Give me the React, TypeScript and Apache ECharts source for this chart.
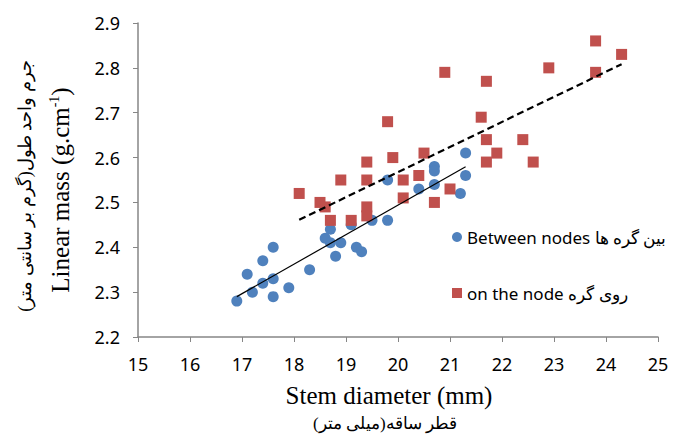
import React, { useEffect, useRef } from "react";
import * as echarts from "echarts";

const betweenX = [16.9, 17.1, 17.2, 17.4, 17.4, 17.6, 17.6, 17.6, 17.9, 18.3, 18.6, 18.7, 18.7, 18.9, 18.8, 19.2, 19.3, 19.1, 19.5, 19.8, 19.8, 20.4, 20.7, 20.7, 20.7, 21.2, 21.3, 21.3];
const betweenY = [2.28, 2.34, 2.30, 2.37, 2.32, 2.40, 2.33, 2.29, 2.31, 2.35, 2.42, 2.44, 2.41, 2.41, 2.38, 2.40, 2.39, 2.45, 2.46, 2.46, 2.55, 2.53, 2.58, 2.57, 2.54, 2.52, 2.61, 2.56];

const nodeX = [18.1, 18.5, 18.6, 18.7, 18.9, 19.1, 19.4, 19.4, 19.4, 19.4, 19.8, 19.9, 20.1, 20.1, 20.4, 20.5, 20.7, 20.9, 21.0, 21.6, 21.7, 21.7, 21.7, 21.9, 22.4, 22.6, 22.9, 23.8, 23.8, 24.3];
const nodeY = [2.52, 2.50, 2.49, 2.46, 2.55, 2.46, 2.59, 2.55, 2.49, 2.47, 2.68, 2.60, 2.55, 2.51, 2.56, 2.61, 2.50, 2.79, 2.53, 2.69, 2.77, 2.64, 2.59, 2.61, 2.64, 2.59, 2.80, 2.86, 2.79, 2.83];

const seriesNames = ["Between nodes بین گره ها", "on the node روی گره"];
const xTitle = "Stem diameter (mm)";
const xTitleFa = "قطر ساقه(میلی متر)";
const yTitleFa = "جرم واحد طول(گرم بر سانتی متر)";

function pairs(xs: number[], ys: number[]) {
  return xs.map((x, i) => [x, ys[i]]);
}

function trend(xs: number[], ys: number[]) {
  const n = xs.length;
  const mx = xs.reduce((a, b) => a + b, 0) / n;
  const my = ys.reduce((a, b) => a + b, 0) / n;
  let sxy = 0, sxx = 0;
  for (let i = 0; i < n; i++) {
    sxy += (xs[i] - mx) * (ys[i] - my);
    sxx += (xs[i] - mx) * (xs[i] - mx);
  }
  const b = sxy / sxx;
  const a = my - b * mx;
  const x0 = Math.min(...xs);
  const x1 = Math.max(...xs);
  return [[x0, a + b * x0], [x1, a + b * x1]];
}

export default function App() {
  const ref = useRef<HTMLDivElement>(null);
  useEffect(() => {
    if (!ref.current) return;
    const chart = echarts.init(ref.current, null, { renderer: "svg" });
    const tickFont = "'Noto Sans', 'Open Sans', sans-serif";
    const serif = "'Liberation Serif', 'DejaVu Serif', serif";
    chart.setOption({
      animation: false,
      backgroundColor: "#ffffff",
      grid: { left: 138, right: 18, top: 23, bottom: 99 },
      xAxis: {
        type: "value",
        min: 15,
        max: 25,
        interval: 1,
        splitLine: { show: false },
        axisLine: { show: true, onZero: false, lineStyle: { color: "#868686", width: 1.5 } },
        axisTick: { show: true, inside: false, length: 5, lineStyle: { color: "#868686" } },
        axisLabel: { fontSize: 18, color: "#000", fontFamily: tickFont, margin: 18 },
      },
      yAxis: {
        type: "value",
        min: 2.2,
        max: 2.9,
        interval: 0.1,
        splitLine: { show: false },
        axisLine: { show: true, onZero: false, lineStyle: { color: "#868686", width: 1.5 } },
        axisTick: { show: true, inside: false, length: 5, lineStyle: { color: "#868686" } },
        axisLabel: {
          fontSize: 18,
          color: "#000",
          fontFamily: tickFont,
          margin: 18,
          formatter: (v: number) => v.toFixed(1),
        },
      },
      legend: {
        orient: "vertical",
        left: 447,
        top: 222,
        itemGap: 36,
        itemWidth: 10,
        itemHeight: 10,
        data: [
          { name: seriesNames[0], icon: "circle" },
          { name: seriesNames[1], icon: "rect" },
        ],
        textStyle: { fontSize: 17, lineHeight: 20, color: "#000", fontFamily: tickFont },
      },
      series: [
        {
          name: seriesNames[0],
          type: "scatter",
          symbol: "circle",
          symbolSize: 11,
          itemStyle: { color: "#4F81BD", opacity: 1 },
          data: pairs(betweenX, betweenY),
          z: 2,
        },
        {
          name: seriesNames[1],
          type: "scatter",
          symbol: "rect",
          symbolSize: 11,
          itemStyle: { color: "#C0504D", opacity: 1 },
          data: pairs(nodeX, nodeY),
          z: 2,
        },
        {
          name: "trend1",
          type: "line",
          data: trend(betweenX, betweenY),
          symbol: "none",
          lineStyle: { color: "#000", width: 1.2, type: "solid" },
          z: 5,
        },
        {
          name: "trend2",
          type: "line",
          data: trend(nodeX, nodeY),
          symbol: "none",
          lineStyle: { color: "#000", width: 2.2, type: [7, 4] },
          z: 5,
        },
      ],
      graphic: [
        {
          type: "text",
          x: 389,
          y: 395,
          style: {
            text: xTitle,
            font: `25px ${serif}`,
            fill: "#000",
            align: "center",
            verticalAlign: "middle",
          },
        },
        {
          type: "text",
          x: 385,
          y: 423,
          style: {
            text: xTitleFa,
            font: `17px ${serif}`,
            fill: "#000",
            align: "center",
            verticalAlign: "middle",
          },
        },
        {
          type: "text",
          x: 60,
          y: 190,
          rotation: Math.PI / 2,
          style: {
            text: "{a|Linear mass (g.cm}{s|-1}{a|)}",
            fill: "#000",
            align: "center",
            verticalAlign: "middle",
            rich: {
              a: { fontSize: 25, fontFamily: serif, color: "#000" },
              s: { fontSize: 14, fontFamily: serif, color: "#000", verticalAlign: "top", padding: [0, 0, 10, 0] },
            },
          },
        },
        {
          type: "text",
          x: 25,
          y: 186,
          rotation: Math.PI / 2,
          style: {
            text: yTitleFa,
            font: `18px ${serif}`,
            fill: "#000",
            align: "center",
            verticalAlign: "middle",
          },
        },
      ],
    });
    return () => chart.dispose();
  }, []);
  return <div ref={ref} style={{ width: 676, height: 436, position: "absolute", left: 0, top: 0 }} />;
}
